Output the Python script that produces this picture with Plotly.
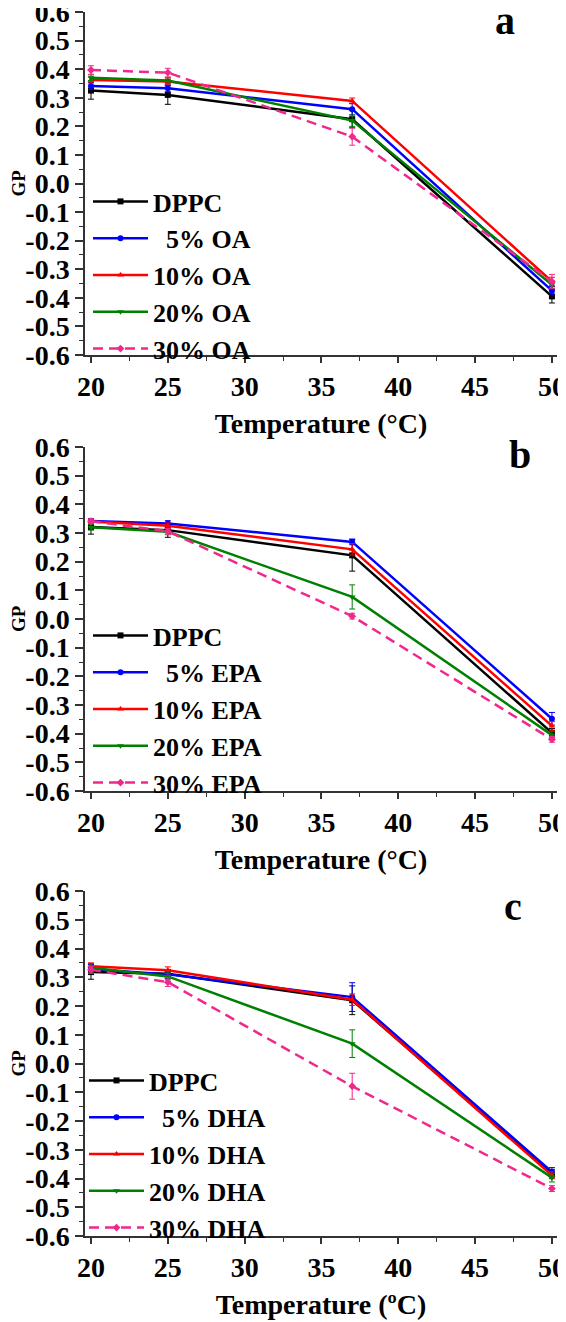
import plotly.graph_objects as go

temps = [20, 25, 37, 50]
series_names = ["DPPC", "5%", "10%", "20%", "30%"]
agents = ["OA", "EPA", "DHA"]
panel_labels = ["a", "b", "c"]

# Panel a (OA)
oa_vals = {
    "DPPC": [0.325, 0.310, 0.225, -0.395],
    "5%":   [0.341, 0.333, 0.260, -0.375],
    "10%":  [0.362, 0.357, 0.289, -0.343],
    "20%":  [0.370, 0.360, 0.220, -0.354],
    "30%":  [0.397, 0.388, 0.164, -0.343],
}
oa_err = {
    "DPPC": [0.030, 0.033, 0.030, 0.023],
    "5%":   [0.012, 0.012, 0.020, 0.015],
    "10%":  [0.010, 0.012, 0.010, 0.015],
    "20%":  [0.010, 0.010, 0.020, 0.012],
    "30%":  [0.015, 0.015, 0.030, 0.025],
}
# Panel b (EPA)
epa_vals = {
    "DPPC": [0.321, 0.310, 0.222, -0.397],
    "5%":   [0.342, 0.333, 0.269, -0.348],
    "10%":  [0.340, 0.325, 0.243, -0.373],
    "20%":  [0.320, 0.304, 0.077, -0.405],
    "30%":  [0.341, 0.306, 0.010, -0.420],
}
epa_err = {
    "DPPC": [0.025, 0.025, 0.055, 0.015],
    "5%":   [0.008, 0.010, 0.010, 0.022],
    "10%":  [0.008, 0.010, 0.020, 0.015],
    "20%":  [0.010, 0.010, 0.042, 0.012],
    "30%":  [0.008, 0.010, 0.010, 0.010],
}
# Panel c (DHA)
dha_vals = {
    "DPPC": [0.318, 0.312, 0.220, -0.383],
    "5%":   [0.329, 0.310, 0.231, -0.377],
    "10%":  [0.338, 0.324, 0.222, -0.389],
    "20%":  [0.333, 0.303, 0.069, -0.397],
    "30%":  [0.326, 0.283, -0.079, -0.435],
}
dha_err = {
    "DPPC": [0.025, 0.015, 0.050, 0.015],
    "5%":   [0.015, 0.015, 0.050, 0.015],
    "10%":  [0.012, 0.012, 0.020, 0.012],
    "20%":  [0.015, 0.012, 0.048, 0.015],
    "30%":  [0.012, 0.015, 0.045, 0.010],
}

y_ticks = [-0.6, -0.5, -0.4, -0.3, -0.2, -0.1, 0.0, 0.1, 0.2, 0.3, 0.4, 0.5, 0.6]
x_ticks = [20, 25, 30, 35, 40, 45, 50]
x_titles = ["Temperature (°C)", "Temperature (°C)", "Temperature (ºC)"]
y_title = "GP"

colors = {"DPPC": "#000000", "5%": "#0000FF", "10%": "#FF0000", "20%": "#008000", "30%": "#F0288C"}
symbols = {"DPPC": "square", "5%": "circle", "10%": "triangle-up", "20%": "triangle-down", "30%": "diamond"}
dashes = {"DPPC": "solid", "5%": "solid", "10%": "solid", "20%": "solid", "30%": "10px,6px"}

FONT = "Liberation Serif, Times New Roman, serif"

panels = [(oa_vals, oa_err), (epa_vals, epa_err), (dha_vals, dha_err)]

# page body has an 8px default margin, so the figure is offset by 8px
OFF = 8
W, H = 566 - OFF, 1322 - OFF
ML, MR, MT, MB = 77, 9, 4, 86
PH = H - MT - MB
PW = W - ML - MR

def py(pix):
    return 1 - (pix - OFF - MT) / PH

def px(pix):
    return (pix - OFF - ML) / PW

panel_px = [(12, 355), (447, 791), (891, 1236)]
legend_top_px = [178, 612, 1057]
legend_x_px = [88, 88, 84]
label_px = [(505, 21), (520, 454), (513, 906)]
gp_x_px = 18

fig = go.Figure()
for i, (vals, errs) in enumerate(panels):
    xa = "x" if i == 0 else f"x{i+1}"
    ya = "y" if i == 0 else f"y{i+1}"
    lg = "legend" if i == 0 else f"legend{i+1}"
    for s in series_names:
        name = "DPPC" if s == "DPPC" else f"{s} {agents[i]}"
        if s == "5%":
            name = "\u00a0\u00a0" + name
        fig.add_trace(go.Scatter(
            x=temps, y=vals[s], name=name, mode="lines+markers",
            xaxis=xa, yaxis=ya, legend=lg,
            line=dict(color=colors[s], width=2.5, dash=dashes[s]),
            marker=dict(symbol=symbols[s], size=6, color=colors[s]),
            error_y=dict(type="data", array=errs[s], thickness=1, width=3, color=colors[s]),
        ))

layout = dict(
    width=W, height=H, plot_bgcolor="white", paper_bgcolor="white",
    margin=dict(l=ML, r=MR, t=MT, b=MB, autoexpand=False),
    font=dict(family=FONT, size=27, color="black", weight="bold"),
    showlegend=True,
)
annotations = []
for i in range(3):
    sfx = "" if i == 0 else str(i + 1)
    top, bot = panel_px[i]
    layout[f"xaxis{sfx}"] = dict(
        domain=[0, 1], anchor=f"y{sfx}", range=[19.61, 50.33], automargin=False,
        tickvals=x_ticks, ticktext=[str(t) for t in x_ticks], ticklabeloverflow="allow",
        ticks="outside", ticklen=6, tickwidth=1.5, tickcolor="#333",
        minor=dict(ticks="outside", ticklen=4, dtick=2.5, tick0=20, tickcolor="#333", tickwidth=1.2),
        showline=True, linecolor="#333", linewidth=1.5, showgrid=False, zeroline=False,
        tickfont=dict(family=FONT, size=28, weight="bold", color="black"),
        title=dict(text=x_titles[i], font=dict(family=FONT, size=28, weight="bold", color="black"), standoff=12),
    )
    layout[f"yaxis{sfx}"] = dict(
        domain=[py(bot), py(top)], anchor=f"x{sfx}", range=[-0.6, 0.6], automargin=False,
        tickvals=y_ticks, ticktext=[f"{v:.1f}" for v in y_ticks], ticklabeloverflow="allow",
        ticks="outside", ticklen=8, tickwidth=1.5, tickcolor="#333",
        minor=dict(ticks="outside", ticklen=4, dtick=0.05, tick0=0, tickcolor="#333", tickwidth=1.2),
        showline=True, linecolor="#333", linewidth=1.5, showgrid=False, zeroline=False,
        tickfont=dict(family=FONT, size=28, weight="bold", color="black"),
    )
    lname = "legend" if i == 0 else f"legend{i+1}"
    layout[lname] = dict(
        x=px(legend_x_px[i]), xanchor="left",
        y=py(legend_top_px[i]), yanchor="top",
        bgcolor="rgba(0,0,0,0)", borderwidth=0,
        font=dict(family=FONT, size=26, weight="bold", color="black"),
        itemwidth=55, tracegroupgap=0,
    )
    lx, ly = label_px[i]
    annotations.append(dict(
        text=panel_labels[i], x=px(lx), y=py(ly), xref="paper", yref="paper",
        xanchor="center", yanchor="middle", showarrow=False,
        font=dict(family=FONT, size=40, weight="bold", color="black"),
    ))
    # y-axis title (rotated), placed at the panel's vertical centre
    annotations.append(dict(
        text=y_title, x=px(gp_x_px), y=py((top + bot) / 2), xref="paper", yref="paper",
        xanchor="center", yanchor="middle", showarrow=False, textangle=-90,
        font=dict(family=FONT, size=19, weight="bold", color="black"),
    ))
layout["annotations"] = annotations
fig.update_layout(**layout)
fig.write_html("out.html")
